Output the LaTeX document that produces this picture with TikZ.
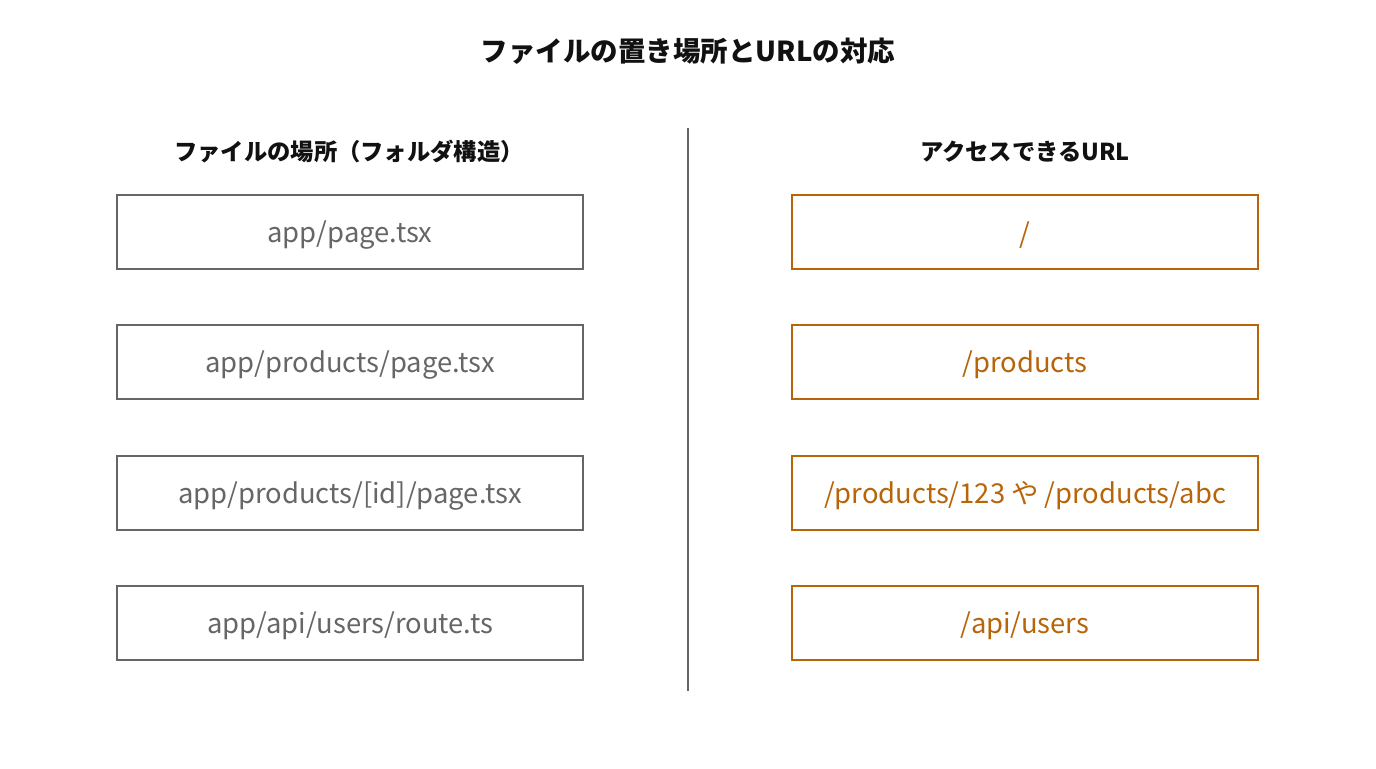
\documentclass[tikz,border=0pt]{standalone}
\usepackage{fontspec}
\setmainfont{Noto Sans CJK JP}
\definecolor{fgray}{HTML}{666666}
\definecolor{uorange}{HTML}{B8650A}
\definecolor{ink}{HTML}{111111}
\begin{document}
\begin{tikzpicture}[x=1bp,y=-1bp,
  filebox/.style={draw=fgray,line width=2.6bp,minimum width=466bp,minimum height=74bp,inner sep=0pt},
  urlbox/.style={draw=uorange,line width=2.6bp,minimum width=466bp,minimum height=74bp,inner sep=0pt},
  boxtext/.style={inner sep=0pt,font=\fontsize{27.4bp}{31bp}\selectfont},
  heading/.style={text=ink,font=\fontsize{23.3bp}{27bp}\selectfont\bfseries},
  titletext/.style={text=ink,font=\fontsize{27.5bp}{31bp}\selectfont\bfseries}]
\useasboundingbox[fill=white] (0,0) rectangle (1376,768);
\node[titletext] (title) at (688,51) {ファイルの置き場所とURLの対応};
\node[heading] (lhead) at (349,152) {ファイルの場所（フォルダ構造）};
\node[heading] (rhead) at (1025,152) {アクセスできるURL};
\coordinate (divtop) at (688,128);
\coordinate (divbot) at (688,691);
\draw[fgray,line width=2.5bp] (divtop) -- (divbot);
\node[filebox] (f1) at (350,232) {};
\node[filebox] (f2) at (350,362) {};
\node[filebox] (f3) at (350,493) {};
\node[filebox] (f4) at (350,623) {};
\node[boxtext,text=fgray] (ft1) at (350,235) {app/page.tsx};
\node[boxtext,text=fgray] (ft2) at (350,365) {app/products/page.tsx};
\node[boxtext,text=fgray] (ft3) at (350,496) {app/products/[id]/page.tsx};
\node[boxtext,text=fgray] (ft4) at (350,626) {app/api/users/route.ts};
\node[urlbox] (u1) at (1025,232) {};
\node[urlbox] (u2) at (1025,362) {};
\node[urlbox] (u3) at (1025,493) {};
\node[urlbox] (u4) at (1025,623) {};
\node[boxtext,text=uorange] (ut1) at (1025,235) {/};
\node[boxtext,text=uorange] (ut2) at (1025,365) {/products};
\node[boxtext,text=uorange] (ut3) at (1025,496) {/products/123 や /products/abc};
\node[boxtext,text=uorange] (ut4) at (1025,626) {/api/users};
\end{tikzpicture}
\end{document}
